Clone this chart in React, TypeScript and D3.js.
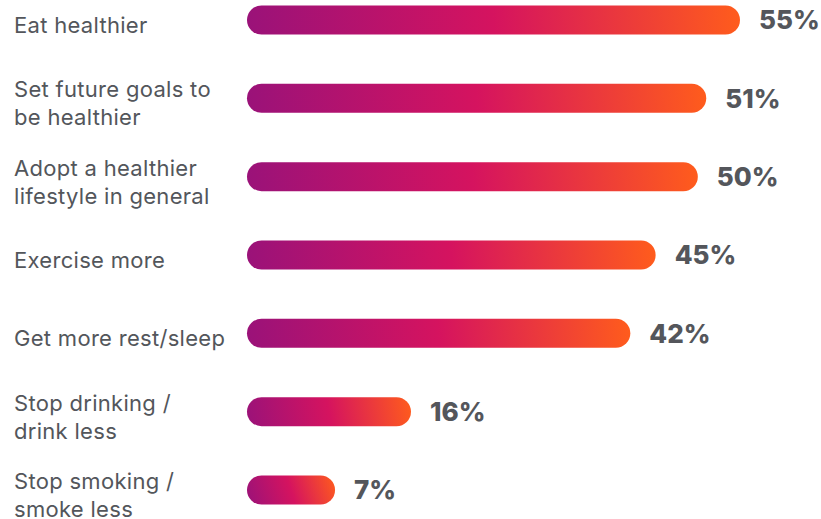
import React from 'react';
import * as d3 from 'd3';

const categories = [
  ['Eat healthier'],
  ['Set future goals to', 'be healthier'],
  ['Adopt a healthier', 'lifestyle in general'],
  ['Exercise more'],
  ['Get more rest/sleep'],
  ['Stop drinking /', 'drink less'],
  ['Stop smoking /', 'smoke less'],
];
const values = [55, 51, 50, 45, 42, 16, 7];
const valueLabels = ['55%', '51%', '50%', '45%', '42%', '16%', '7%'];

const width = 821;
const height = 519;
const barLeft = 247;
const barHeight = 29;
const lineHeight = 28;

export default function App() {
  const idx = values.map((_, i) => i);
  const y = d3.scalePoint<number>().domain(idx).range([20, 490]);
  const x = d3.scaleLinear().domain([0, 55]).range([0, 464]);

  return (
    <svg
      width={width}
      height={height}
      style={{ position: 'absolute', left: 0, top: 0 }}
      viewBox={`0 0 ${width} ${height}`}
    >
      {idx.map((i) => {
        const cy = y(i)!;
        const w = x(values[i]) + barHeight;
        const lines = categories[i];
        const labelTop = cy + 5 - ((lines.length - 1) * lineHeight) / 2;
        return (
          <g key={i}>
            <defs>
              <linearGradient
                id={`barGrad${i}`}
                gradientUnits="userSpaceOnUse"
                x1={barLeft}
                y1={cy + barHeight / 2}
                x2={barLeft + w}
                y2={cy - barHeight / 2}
              >
                <stop offset="0%" stopColor="#9a1279" />
                <stop offset="50%" stopColor="#d5135f" />
                <stop offset="100%" stopColor="#ff5c1c" />
              </linearGradient>
            </defs>
            <text
              x={14}
              fontFamily="Inter, 'Noto Sans', sans-serif"
              fontSize={22}
              letterSpacing={0.3}
              fill="#53565b"
            >
              {lines.map((l, j) => (
                <tspan key={j} x={14} y={labelTop + j * lineHeight} dy="0.36em">
                  {l}
                </tspan>
              ))}
            </text>
            <rect
              x={barLeft}
              y={cy - barHeight / 2}
              width={w}
              height={barHeight}
              rx={barHeight / 2}
              fill={`url(#barGrad${i})`}
            />
            <text
              x={barLeft + w + 19}
              y={cy}
              dy="0.36em"
              fontFamily="Inter, sans-serif"
              fontWeight={800}
              fontSize={26}
              fill="#54565b"
            >
              {valueLabels[i]}
            </text>
          </g>
        );
      })}
    </svg>
  );
}
